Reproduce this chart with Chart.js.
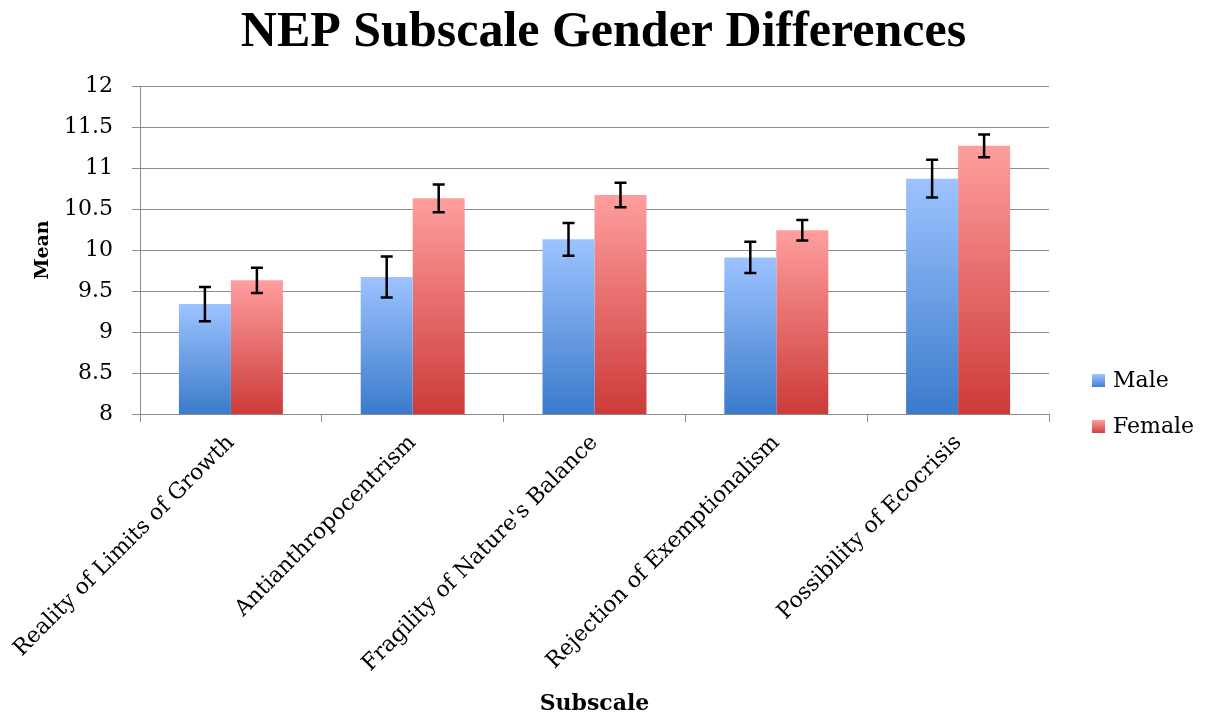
<!DOCTYPE html>
<html>
<head>
<meta charset="utf-8">
<script src="https://cdn.jsdelivr.net/npm/chart.js@4"></script>
<style>
  html, body { margin: 0; padding: 0; background: #fff; }
  #wrap { width: 1207px; height: 721px; }
</style>
</head>
<body>
<div id="wrap"><canvas id="nepChart"></canvas></div>
<script>
const subscales = ['Reality of Limits of Growth', 'Antianthropocentrism', "Fragility of Nature's Balance", 'Rejection of Exemptionalism', 'Possibility of Ecocrisis'];
const maleMeans = [9.34, 9.67, 10.13, 9.91, 10.87];
const maleErrors = [0.21, 0.25, 0.20, 0.19, 0.23];
const femaleMeans = [9.63, 10.63, 10.67, 10.24, 11.27];
const femaleErrors = [0.155, 0.17, 0.15, 0.125, 0.14];
const yTicks = [8, 8.5, 9, 9.5, 10, 10.5, 11, 11.5, 12];

const serif = "'DejaVu Serif', 'Liberation Serif', serif";
const gridGray = '#8c8c8c';

// vertical gradient from the top of each bar down to the axis
function barGradient(topColor, bottomColor) {
    return ctx => {
        const chart = ctx.chart;
        if (!chart.chartArea || ctx.type !== 'data') return bottomColor;
        const y = chart.scales.y;
        const top = y.getPixelForValue(ctx.raw);
        const bottom = y.getPixelForValue(y.min);
        if (!isFinite(top) || !isFinite(bottom) || top === bottom) return bottomColor;
        const g = chart.ctx.createLinearGradient(0, top, 0, bottom);
        g.addColorStop(0, topColor);
        g.addColorStop(1, bottomColor);
        return g;
    };
}

const errorBars = {
    id: 'errorBars',
    afterDatasetsDraw(chart) {
        const ctx = chart.ctx;
        const y = chart.scales.y;
        ctx.save();
        ctx.strokeStyle = '#000';
        ctx.lineWidth = 2.5;
        chart.data.datasets.forEach((ds, di) => {
            const meta = chart.getDatasetMeta(di);
            meta.data.forEach((bar, i) => {
                const v = ds.data[i];
                const e = ds.errors[i];
                const yt = y.getPixelForValue(v + e);
                const yb = y.getPixelForValue(v - e);
                const x = bar.x;
                ctx.beginPath();
                ctx.moveTo(x, yt); ctx.lineTo(x, yb);
                ctx.moveTo(x - 6, yt); ctx.lineTo(x + 6, yt);
                ctx.moveTo(x - 6, yb); ctx.lineTo(x + 6, yb);
                ctx.stroke();
            });
        });
        ctx.restore();
    }
};

const sideLegend = {
    id: 'sideLegend',
    afterDraw(chart) {
        const ctx = chart.ctx;
        const left = chart.chartArea.right + 43;
        ctx.save();
        ctx.font = "22px " + serif;
        ctx.textBaseline = 'middle';
        ctx.fillStyle = '#000';
        chart.data.datasets.forEach((ds, i) => {
            const cy = 381 + i * 46;
            const g = ctx.createLinearGradient(0, cy - 7, 0, cy + 7);
            g.addColorStop(0, ds.legendTop);
            g.addColorStop(1, ds.legendBottom);
            ctx.fillStyle = g;
            ctx.fillRect(left, cy - 7, 13, 13);
            ctx.fillStyle = '#000';
            ctx.fillText(ds.label, left + 21, cy);
        });
        ctx.restore();
    }
};

new Chart(document.getElementById('nepChart'), {
    type: 'bar',
    data: {
        labels: subscales,
        datasets: [
            {
                label: 'Male',
                data: maleMeans,
                errors: maleErrors,
                backgroundColor: barGradient('#9dc3ff', '#3b7bcb'),
                legendTop: '#9dc3ff',
                legendBottom: '#3b7bcb',
                categoryPercentage: 0.572,
                barPercentage: 1.0
            },
            {
                label: 'Female',
                data: femaleMeans,
                errors: femaleErrors,
                backgroundColor: barGradient('#ff9e9e', '#cc3b39'),
                legendTop: '#ff9e9e',
                legendBottom: '#cc3b39',
                categoryPercentage: 0.572,
                barPercentage: 1.0
            }
        ]
    },
    options: {
        responsive: true,
        maintainAspectRatio: false,
        animation: false,
        layout: { padding: 0 },
        plugins: {
            legend: { display: false },
            tooltip: { enabled: false },
            title: {
                display: true,
                text: 'NEP Subscale Gender Differences',
                color: '#000',
                font: { family: "'Liberation Serif', serif", size: 50, weight: 'bold' },
                padding: { top: 3, bottom: 23 }
            }
        },
        scales: {
            x: {
                grid: { drawOnChartArea: false, drawTicks: true, tickLength: 8, color: gridGray, offset: true },
                border: { color: gridGray },
                ticks: {
                    color: '#000',
                    font: { family: serif, size: 22 },
                    minRotation: 45,
                    maxRotation: 45,
                    autoSkip: false,
                    padding: 8
                },
                title: {
                    display: true,
                    text: 'Subscale',
                    color: '#000',
                    font: { family: serif, size: 22, weight: 'bold' },
                    padding: { top: 0, bottom: 4 }
                },
                afterFit: s => {
                    s.height = 307;
                    s.paddingLeft = 0;
                    s.paddingRight = 0;
                }
            },
            y: {
                min: 8,
                max: 12,
                afterBuildTicks: s => { s.ticks = yTicks.map(v => ({ value: v })); },
                grid: { color: gridGray, tickLength: 8 },
                border: { color: gridGray },
                ticks: {
                    color: '#000',
                    font: { family: serif, size: 22 },
                    padding: 19,
                    callback: v => String(v)
                },
                title: {
                    display: true,
                    text: 'Mean',
                    color: '#000',
                    font: { family: serif, size: 19, weight: 'bold' },
                    padding: { top: 32, bottom: 0 }
                },
                afterFit: s => { s.width = 140; }
            },
            spacer: {
                type: 'linear',
                position: 'right',
                grid: { drawOnChartArea: false, drawTicks: false },
                border: { display: false },
                ticks: { display: false },
                afterFit: s => { s.width = 158; }
            }
        }
    },
    plugins: [errorBars, sideLegend]
});
</script>
</body>
</html>
